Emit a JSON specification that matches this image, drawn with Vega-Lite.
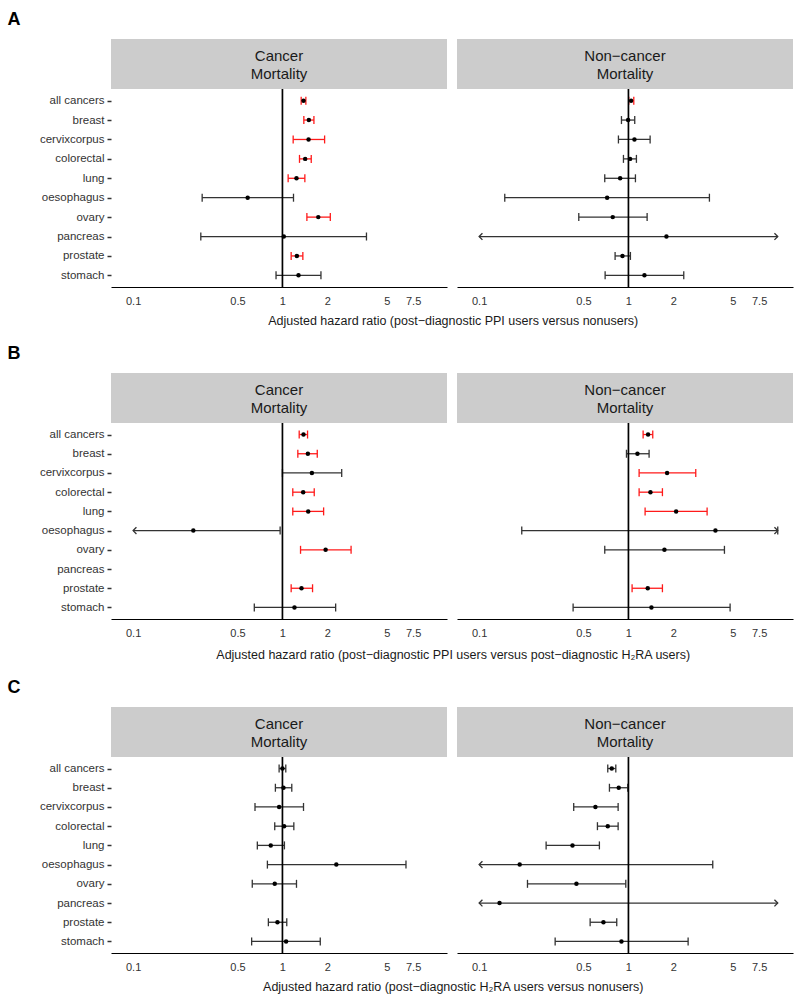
{
"$schema": "https://vega.github.io/schema/vega-lite/v6.json",
"padding": {"left": 7, "top": 11, "right": 5, "bottom": 0},
"config": {"font": "Liberation Sans", "view": {"stroke": null}},
"datasets": {"d": [
{"s":"A","m":"C","c":"all cancers","hr":1.384,"lo":1.335,"hi":1.435,"g":"y","lc":true,"hc":true,"la":false,"ha":false},
{"s":"A","m":"C","c":"breast","hr":1.503,"lo":1.391,"hi":1.625,"g":"y","lc":true,"hc":true,"la":false,"ha":false},
{"s":"A","m":"C","c":"cervixcorpus","hr":1.496,"lo":1.18,"hi":1.916,"g":"y","lc":true,"hc":true,"la":false,"ha":false},
{"s":"A","m":"C","c":"colorectal","hr":1.42,"lo":1.301,"hi":1.559,"g":"y","lc":true,"hc":true,"la":false,"ha":false},
{"s":"A","m":"C","c":"lung","hr":1.242,"lo":1.092,"hi":1.413,"g":"y","lc":true,"hc":true,"la":false,"ha":false},
{"s":"A","m":"C","c":"oesophagus","hr":0.585,"lo":0.29,"hi":1.186,"g":"n","lc":true,"hc":true,"la":false,"ha":false},
{"s":"A","m":"C","c":"ovary","hr":1.738,"lo":1.458,"hi":2.092,"g":"y","lc":true,"hc":true,"la":false,"ha":false},
{"s":"A","m":"C","c":"pancreas","hr":1.021,"lo":0.284,"hi":3.654,"g":"n","lc":true,"hc":true,"la":false,"ha":false},
{"s":"A","m":"C","c":"prostate","hr":1.249,"lo":1.144,"hi":1.37,"g":"y","lc":true,"hc":true,"la":false,"ha":false},
{"s":"A","m":"C","c":"stomach","hr":1.281,"lo":0.906,"hi":1.811,"g":"n","lc":true,"hc":true,"la":false,"ha":false},
{"s":"A","m":"N","c":"all cancers","hr":1.042,"lo":1.005,"hi":1.086,"g":"y","lc":true,"hc":true,"la":false,"ha":false},
{"s":"A","m":"N","c":"breast","hr":0.995,"lo":0.898,"hi":1.102,"g":"n","lc":true,"hc":true,"la":false,"ha":false},
{"s":"A","m":"N","c":"cervixcorpus","hr":1.097,"lo":0.857,"hi":1.397,"g":"n","lc":true,"hc":true,"la":false,"ha":false},
{"s":"A","m":"N","c":"colorectal","hr":1.026,"lo":0.926,"hi":1.131,"g":"n","lc":true,"hc":true,"la":false,"ha":false},
{"s":"A","m":"N","c":"lung","hr":0.88,"lo":0.694,"hi":1.114,"g":"n","lc":true,"hc":true,"la":false,"ha":false},
{"s":"A","m":"N","c":"oesophagus","hr":0.72,"lo":0.1485,"hi":3.486,"g":"n","lc":true,"hc":true,"la":false,"ha":false},
{"s":"A","m":"N","c":"ovary","hr":0.785,"lo":0.465,"hi":1.334,"g":"n","lc":true,"hc":true,"la":false,"ha":false},
{"s":"A","m":"N","c":"pancreas","hr":1.797,"lo":0.1,"hi":10,"g":"n","lc":false,"hc":false,"la":true,"ha":true},
{"s":"A","m":"N","c":"prostate","hr":0.912,"lo":0.814,"hi":1.031,"g":"n","lc":true,"hc":true,"la":false,"ha":false},
{"s":"A","m":"N","c":"stomach","hr":1.28,"lo":0.698,"hi":2.347,"g":"n","lc":true,"hc":true,"la":false,"ha":false},
{"s":"B","m":"C","c":"all cancers","hr":1.384,"lo":1.295,"hi":1.473,"g":"y","lc":true,"hc":true,"la":false,"ha":false},
{"s":"B","m":"C","c":"breast","hr":1.48,"lo":1.268,"hi":1.711,"g":"y","lc":true,"hc":true,"la":false,"ha":false},
{"s":"B","m":"C","c":"cervixcorpus","hr":1.575,"lo":1.0,"hi":2.494,"g":"n","lc":true,"hc":true,"la":false,"ha":false},
{"s":"B","m":"C","c":"colorectal","hr":1.377,"lo":1.173,"hi":1.633,"g":"y","lc":true,"hc":true,"la":false,"ha":false},
{"s":"B","m":"C","c":"lung","hr":1.488,"lo":1.173,"hi":1.887,"g":"y","lc":true,"hc":true,"la":false,"ha":false},
{"s":"B","m":"C","c":"oesophagus","hr":0.253,"lo":0.1,"hi":0.965,"g":"n","lc":false,"hc":true,"la":true,"ha":false},
{"s":"B","m":"C","c":"ovary","hr":1.946,"lo":1.322,"hi":2.882,"g":"y","lc":true,"hc":true,"la":false,"ha":false},
{"s":"B","m":"C","c":"prostate","hr":1.342,"lo":1.144,"hi":1.591,"g":"y","lc":true,"hc":true,"la":false,"ha":false},
{"s":"B","m":"C","c":"stomach","hr":1.204,"lo":0.648,"hi":2.272,"g":"n","lc":true,"hc":true,"la":false,"ha":false},
{"s":"B","m":"N","c":"all cancers","hr":1.354,"lo":1.254,"hi":1.455,"g":"y","lc":true,"hc":true,"la":false,"ha":false},
{"s":"B","m":"N","c":"breast","hr":1.149,"lo":0.97,"hi":1.375,"g":"n","lc":true,"hc":true,"la":false,"ha":false},
{"s":"B","m":"N","c":"cervixcorpus","hr":1.815,"lo":1.179,"hi":2.824,"g":"y","lc":true,"hc":true,"la":false,"ha":false},
{"s":"B","m":"N","c":"colorectal","hr":1.404,"lo":1.179,"hi":1.689,"g":"y","lc":true,"hc":true,"la":false,"ha":false},
{"s":"B","m":"N","c":"lung","hr":2.086,"lo":1.293,"hi":3.364,"g":"y","lc":true,"hc":true,"la":false,"ha":false},
{"s":"B","m":"N","c":"oesophagus","hr":3.825,"lo":0.193,"hi":10,"g":"n","lc":true,"hc":true,"la":false,"ha":true},
{"s":"B","m":"N","c":"ovary","hr":1.742,"lo":0.694,"hi":4.395,"g":"n","lc":true,"hc":true,"la":false,"ha":false},
{"s":"B","m":"N","c":"prostate","hr":1.347,"lo":1.058,"hi":1.689,"g":"y","lc":true,"hc":true,"la":false,"ha":false},
{"s":"B","m":"N","c":"stomach","hr":1.426,"lo":0.426,"hi":4.796,"g":"n","lc":true,"hc":true,"la":false,"ha":false},
{"s":"C","m":"C","c":"all cancers","hr":1.0,"lo":0.95,"hi":1.053,"g":"n","lc":true,"hc":true,"la":false,"ha":false},
{"s":"C","m":"C","c":"breast","hr":1.016,"lo":0.897,"hi":1.155,"g":"n","lc":true,"hc":true,"la":false,"ha":false},
{"s":"C","m":"C","c":"cervixcorpus","hr":0.95,"lo":0.655,"hi":1.384,"g":"n","lc":true,"hc":true,"la":false,"ha":false},
{"s":"C","m":"C","c":"colorectal","hr":1.026,"lo":0.888,"hi":1.192,"g":"n","lc":true,"hc":true,"la":false,"ha":false},
{"s":"C","m":"C","c":"lung","hr":0.835,"lo":0.679,"hi":1.031,"g":"n","lc":true,"hc":true,"la":false,"ha":false},
{"s":"C","m":"C","c":"oesophagus","hr":2.296,"lo":0.793,"hi":6.72,"g":"n","lc":true,"hc":true,"la":false,"ha":false},
{"s":"C","m":"C","c":"ovary","hr":0.888,"lo":0.628,"hi":1.242,"g":"n","lc":true,"hc":true,"la":false,"ha":false},
{"s":"C","m":"C","c":"prostate","hr":0.926,"lo":0.805,"hi":1.069,"g":"n","lc":true,"hc":true,"la":false,"ha":false},
{"s":"C","m":"C","c":"stomach","hr":1.058,"lo":0.622,"hi":1.792,"g":"n","lc":true,"hc":true,"la":false,"ha":false},
{"s":"C","m":"N","c":"all cancers","hr":0.773,"lo":0.727,"hi":0.823,"g":"n","lc":true,"hc":true,"la":false,"ha":false},
{"s":"C","m":"N","c":"breast","hr":0.861,"lo":0.746,"hi":0.99,"g":"n","lc":true,"hc":true,"la":false,"ha":false},
{"s":"C","m":"N","c":"cervixcorpus","hr":0.601,"lo":0.43,"hi":0.853,"g":"n","lc":true,"hc":true,"la":false,"ha":false},
{"s":"C","m":"N","c":"colorectal","hr":0.727,"lo":0.62,"hi":0.853,"g":"n","lc":true,"hc":true,"la":false,"ha":false},
{"s":"C","m":"N","c":"lung","hr":0.422,"lo":0.281,"hi":0.639,"g":"n","lc":true,"hc":true,"la":false,"ha":false},
{"s":"C","m":"N","c":"oesophagus","hr":0.187,"lo":0.1,"hi":3.67,"g":"n","lc":false,"hc":true,"la":true,"ha":false},
{"s":"C","m":"N","c":"ovary","hr":0.4485,"lo":0.2108,"hi":0.96,"g":"n","lc":true,"hc":true,"la":false,"ha":false},
{"s":"C","m":"N","c":"pancreas","hr":0.137,"lo":0.1,"hi":10,"g":"n","lc":false,"hc":false,"la":true,"ha":true},
{"s":"C","m":"N","c":"prostate","hr":0.68,"lo":0.554,"hi":0.835,"g":"n","lc":true,"hc":true,"la":false,"ha":false},
{"s":"C","m":"N","c":"stomach","hr":0.898,"lo":0.323,"hi":2.51,"g":"n","lc":true,"hc":true,"la":false,"ha":false}
]},
"spacing": 17,
"vconcat": [
{
"title": {"text": "A", "anchor": "start", "fontSize": 18, "fontWeight": "bold", "color": "#000", "dx": -32, "offset": 10},
"vconcat": [{
"title": {"text": "Adjusted hazard ratio (post−diagnostic PPI users versus nonusers)", "orient": "bottom", "anchor": "middle", "fontSize": 12.5, "fontWeight": "normal", "color": "#1a1a1a", "dx": 37, "offset": 9},
"spacing": 10,
"hconcat": [
{"spacing": 0, "bounds": "flush", "vconcat": [
 {"width": 336, "height": 50, "view": {"fill": "#cccccc", "stroke": null}, "data": {"values": [{"t": "Cancer\nMortality"}]}, "mark": {"type": "text", "fontSize": 15, "lineBreak": "\n", "lineHeight": 18, "color": "#1a1a1a", "baseline": "middle", "align": "center", "dy": -8}, "encoding": {"text": {"field": "t"}}},
 {"width": 336, "height": 198, "data": {"name": "d"}, "transform": [{"filter": "datum.s=='A' && datum.m=='C'"}],
  "layer": [
   {"mark": {"type": "rule", "strokeWidth": 1.3}, "encoding": {"y": {"field": "c", "type": "nominal", "scale": {"type": "point", "padding": 0.6, "domain": ["all cancers","breast","cervixcorpus","colorectal","lung","oesophagus","ovary","pancreas","prostate","stomach"]}, "axis": {"title": null, "domain": false, "ticks": true, "tickSize": 4, "tickWidth": 1.5, "tickColor": "#333", "labelFontSize": 11.5, "labelColor": "#333", "labelPadding": 3, "grid": false}}, "x": {"field": "lo", "type": "quantitative", "scale": {"type": "log", "domain": [0.0711, 12.65], "nice": false}, "axis": {"title": null, "values": [0.1,0.5,1,2,5,7.5], "format": "~g", "ticks": false, "grid": false, "domainColor": "#000", "domainWidth": 1.2, "labelFontSize": 11, "labelColor": "#333", "labelPadding": 8, "labelFlush": false}}, "x2": {"field": "hi"}, "color": {"field": "g", "type": "nominal", "scale": {"domain": ["n","y"], "range": ["#333333","#ff1a1a"]}, "legend": null}}},
   {"transform": [{"filter": "datum.lc"}], "mark": {"type": "tick", "orient": "vertical", "thickness": 1.3, "size": 8, "opacity": 1}, "encoding": {"y": {"field": "c", "type": "nominal"}, "x": {"field": "lo", "type": "quantitative"}, "color": {"field": "g", "type": "nominal"}}},
   {"transform": [{"filter": "datum.hc"}], "mark": {"type": "tick", "orient": "vertical", "thickness": 1.3, "size": 8, "opacity": 1}, "encoding": {"y": {"field": "c", "type": "nominal"}, "x": {"field": "hi", "type": "quantitative"}, "color": {"field": "g", "type": "nominal"}}},
   {"transform": [{"filter": "datum.la"}], "mark": {"type": "point", "shape": "M1,-1L0,0L1,1", "filled": false, "size": 44, "strokeWidth": 1.3, "opacity": 1}, "encoding": {"y": {"field": "c", "type": "nominal"}, "x": {"field": "lo", "type": "quantitative"}, "color": {"field": "g", "type": "nominal"}}},
   {"transform": [{"filter": "datum.ha"}], "mark": {"type": "point", "shape": "M-1,-1L0,0L-1,1", "filled": false, "size": 44, "strokeWidth": 1.3, "opacity": 1}, "encoding": {"y": {"field": "c", "type": "nominal"}, "x": {"field": "hi", "type": "quantitative"}, "color": {"field": "g", "type": "nominal"}}},
   {"data": {"values": [{"v": 1}]}, "mark": {"type": "rule", "color": "#000", "strokeWidth": 1.7}, "encoding": {"x": {"field": "v", "type": "quantitative"}}},
   {"mark": {"type": "point", "filled": true, "color": "#000", "size": 20, "opacity": 1}, "encoding": {"y": {"field": "c", "type": "nominal"}, "x": {"field": "hr", "type": "quantitative"}}}
  ]}
]},
{"spacing": 0, "bounds": "flush", "vconcat": [
 {"width": 336, "height": 50, "view": {"fill": "#cccccc", "stroke": null}, "data": {"values": [{"t": "Non−cancer\nMortality"}]}, "mark": {"type": "text", "fontSize": 15, "lineBreak": "\n", "lineHeight": 18, "color": "#1a1a1a", "baseline": "middle", "align": "center", "dy": -8}, "encoding": {"text": {"field": "t"}}},
 {"width": 336, "height": 198, "data": {"name": "d"}, "transform": [{"filter": "datum.s=='A' && datum.m=='N'"}],
  "layer": [
   {"mark": {"type": "rule", "strokeWidth": 1.3}, "encoding": {"y": {"field": "c", "type": "nominal", "scale": {"type": "point", "padding": 0.6, "domain": ["all cancers","breast","cervixcorpus","colorectal","lung","oesophagus","ovary","pancreas","prostate","stomach"]}, "axis": null}, "x": {"field": "lo", "type": "quantitative", "scale": {"type": "log", "domain": [0.0711, 12.65], "nice": false}, "axis": {"title": null, "values": [0.1,0.5,1,2,5,7.5], "format": "~g", "ticks": false, "grid": false, "domainColor": "#000", "domainWidth": 1.2, "labelFontSize": 11, "labelColor": "#333", "labelPadding": 8, "labelFlush": false}}, "x2": {"field": "hi"}, "color": {"field": "g", "type": "nominal", "scale": {"domain": ["n","y"], "range": ["#333333","#ff1a1a"]}, "legend": null}}},
   {"transform": [{"filter": "datum.lc"}], "mark": {"type": "tick", "orient": "vertical", "thickness": 1.3, "size": 8, "opacity": 1}, "encoding": {"y": {"field": "c", "type": "nominal"}, "x": {"field": "lo", "type": "quantitative"}, "color": {"field": "g", "type": "nominal"}}},
   {"transform": [{"filter": "datum.hc"}], "mark": {"type": "tick", "orient": "vertical", "thickness": 1.3, "size": 8, "opacity": 1}, "encoding": {"y": {"field": "c", "type": "nominal"}, "x": {"field": "hi", "type": "quantitative"}, "color": {"field": "g", "type": "nominal"}}},
   {"transform": [{"filter": "datum.la"}], "mark": {"type": "point", "shape": "M1,-1L0,0L1,1", "filled": false, "size": 44, "strokeWidth": 1.3, "opacity": 1}, "encoding": {"y": {"field": "c", "type": "nominal"}, "x": {"field": "lo", "type": "quantitative"}, "color": {"field": "g", "type": "nominal"}}},
   {"transform": [{"filter": "datum.ha"}], "mark": {"type": "point", "shape": "M-1,-1L0,0L-1,1", "filled": false, "size": 44, "strokeWidth": 1.3, "opacity": 1}, "encoding": {"y": {"field": "c", "type": "nominal"}, "x": {"field": "hi", "type": "quantitative"}, "color": {"field": "g", "type": "nominal"}}},
   {"data": {"values": [{"v": 1}]}, "mark": {"type": "rule", "color": "#000", "strokeWidth": 1.7}, "encoding": {"x": {"field": "v", "type": "quantitative"}}},
   {"mark": {"type": "point", "filled": true, "color": "#000", "size": 20, "opacity": 1}, "encoding": {"y": {"field": "c", "type": "nominal"}, "x": {"field": "hr", "type": "quantitative"}}}
  ]}
]}
]
}]
},
{
"title": {"text": "B", "anchor": "start", "fontSize": 18, "fontWeight": "bold", "color": "#000", "dx": -32, "offset": 10},
"vconcat": [{
"title": {"text": "Adjusted hazard ratio (post−diagnostic PPI users versus post−diagnostic H₂RA users)", "orient": "bottom", "anchor": "middle", "fontSize": 12.5, "fontWeight": "normal", "color": "#1a1a1a", "dx": 37, "offset": 11},
"spacing": 10,
"hconcat": [
{"spacing": 0, "bounds": "flush", "vconcat": [
 {"width": 336, "height": 50, "view": {"fill": "#cccccc", "stroke": null}, "data": {"values": [{"t": "Cancer\nMortality"}]}, "mark": {"type": "text", "fontSize": 15, "lineBreak": "\n", "lineHeight": 18, "color": "#1a1a1a", "baseline": "middle", "align": "center", "dy": -8}, "encoding": {"text": {"field": "t"}}},
 {"width": 336, "height": 196, "data": {"name": "d"}, "transform": [{"filter": "datum.s=='B' && datum.m=='C'"}],
  "layer": [
   {"mark": {"type": "rule", "strokeWidth": 1.3}, "encoding": {"y": {"field": "c", "type": "nominal", "scale": {"type": "point", "padding": 0.6, "domain": ["all cancers","breast","cervixcorpus","colorectal","lung","oesophagus","ovary","pancreas","prostate","stomach"]}, "axis": {"title": null, "domain": false, "ticks": true, "tickSize": 4, "tickWidth": 1.5, "tickColor": "#333", "labelFontSize": 11.5, "labelColor": "#333", "labelPadding": 3, "grid": false}}, "x": {"field": "lo", "type": "quantitative", "scale": {"type": "log", "domain": [0.0711, 12.65], "nice": false}, "axis": {"title": null, "values": [0.1,0.5,1,2,5,7.5], "format": "~g", "ticks": false, "grid": false, "domainColor": "#000", "domainWidth": 1.2, "labelFontSize": 11, "labelColor": "#333", "labelPadding": 8, "labelFlush": false}}, "x2": {"field": "hi"}, "color": {"field": "g", "type": "nominal", "scale": {"domain": ["n","y"], "range": ["#333333","#ff1a1a"]}, "legend": null}}},
   {"transform": [{"filter": "datum.lc"}], "mark": {"type": "tick", "orient": "vertical", "thickness": 1.3, "size": 8, "opacity": 1}, "encoding": {"y": {"field": "c", "type": "nominal"}, "x": {"field": "lo", "type": "quantitative"}, "color": {"field": "g", "type": "nominal"}}},
   {"transform": [{"filter": "datum.hc"}], "mark": {"type": "tick", "orient": "vertical", "thickness": 1.3, "size": 8, "opacity": 1}, "encoding": {"y": {"field": "c", "type": "nominal"}, "x": {"field": "hi", "type": "quantitative"}, "color": {"field": "g", "type": "nominal"}}},
   {"transform": [{"filter": "datum.la"}], "mark": {"type": "point", "shape": "M1,-1L0,0L1,1", "filled": false, "size": 44, "strokeWidth": 1.3, "opacity": 1}, "encoding": {"y": {"field": "c", "type": "nominal"}, "x": {"field": "lo", "type": "quantitative"}, "color": {"field": "g", "type": "nominal"}}},
   {"transform": [{"filter": "datum.ha"}], "mark": {"type": "point", "shape": "M-1,-1L0,0L-1,1", "filled": false, "size": 44, "strokeWidth": 1.3, "opacity": 1}, "encoding": {"y": {"field": "c", "type": "nominal"}, "x": {"field": "hi", "type": "quantitative"}, "color": {"field": "g", "type": "nominal"}}},
   {"data": {"values": [{"v": 1}]}, "mark": {"type": "rule", "color": "#000", "strokeWidth": 1.7}, "encoding": {"x": {"field": "v", "type": "quantitative"}}},
   {"mark": {"type": "point", "filled": true, "color": "#000", "size": 20, "opacity": 1}, "encoding": {"y": {"field": "c", "type": "nominal"}, "x": {"field": "hr", "type": "quantitative"}}}
  ]}
]},
{"spacing": 0, "bounds": "flush", "vconcat": [
 {"width": 336, "height": 50, "view": {"fill": "#cccccc", "stroke": null}, "data": {"values": [{"t": "Non−cancer\nMortality"}]}, "mark": {"type": "text", "fontSize": 15, "lineBreak": "\n", "lineHeight": 18, "color": "#1a1a1a", "baseline": "middle", "align": "center", "dy": -8}, "encoding": {"text": {"field": "t"}}},
 {"width": 336, "height": 196, "data": {"name": "d"}, "transform": [{"filter": "datum.s=='B' && datum.m=='N'"}],
  "layer": [
   {"mark": {"type": "rule", "strokeWidth": 1.3}, "encoding": {"y": {"field": "c", "type": "nominal", "scale": {"type": "point", "padding": 0.6, "domain": ["all cancers","breast","cervixcorpus","colorectal","lung","oesophagus","ovary","pancreas","prostate","stomach"]}, "axis": null}, "x": {"field": "lo", "type": "quantitative", "scale": {"type": "log", "domain": [0.0711, 12.65], "nice": false}, "axis": {"title": null, "values": [0.1,0.5,1,2,5,7.5], "format": "~g", "ticks": false, "grid": false, "domainColor": "#000", "domainWidth": 1.2, "labelFontSize": 11, "labelColor": "#333", "labelPadding": 8, "labelFlush": false}}, "x2": {"field": "hi"}, "color": {"field": "g", "type": "nominal", "scale": {"domain": ["n","y"], "range": ["#333333","#ff1a1a"]}, "legend": null}}},
   {"transform": [{"filter": "datum.lc"}], "mark": {"type": "tick", "orient": "vertical", "thickness": 1.3, "size": 8, "opacity": 1}, "encoding": {"y": {"field": "c", "type": "nominal"}, "x": {"field": "lo", "type": "quantitative"}, "color": {"field": "g", "type": "nominal"}}},
   {"transform": [{"filter": "datum.hc"}], "mark": {"type": "tick", "orient": "vertical", "thickness": 1.3, "size": 8, "opacity": 1}, "encoding": {"y": {"field": "c", "type": "nominal"}, "x": {"field": "hi", "type": "quantitative"}, "color": {"field": "g", "type": "nominal"}}},
   {"transform": [{"filter": "datum.la"}], "mark": {"type": "point", "shape": "M1,-1L0,0L1,1", "filled": false, "size": 44, "strokeWidth": 1.3, "opacity": 1}, "encoding": {"y": {"field": "c", "type": "nominal"}, "x": {"field": "lo", "type": "quantitative"}, "color": {"field": "g", "type": "nominal"}}},
   {"transform": [{"filter": "datum.ha"}], "mark": {"type": "point", "shape": "M-1,-1L0,0L-1,1", "filled": false, "size": 44, "strokeWidth": 1.3, "opacity": 1}, "encoding": {"y": {"field": "c", "type": "nominal"}, "x": {"field": "hi", "type": "quantitative"}, "color": {"field": "g", "type": "nominal"}}},
   {"data": {"values": [{"v": 1}]}, "mark": {"type": "rule", "color": "#000", "strokeWidth": 1.7}, "encoding": {"x": {"field": "v", "type": "quantitative"}}},
   {"mark": {"type": "point", "filled": true, "color": "#000", "size": 20, "opacity": 1}, "encoding": {"y": {"field": "c", "type": "nominal"}, "x": {"field": "hr", "type": "quantitative"}}}
  ]}
]}
]
}]
},
{
"title": {"text": "C", "anchor": "start", "fontSize": 18, "fontWeight": "bold", "color": "#000", "dx": -32, "offset": 10},
"vconcat": [{
"title": {"text": "Adjusted hazard ratio (post−diagnostic H₂RA users versus nonusers)", "orient": "bottom", "anchor": "middle", "fontSize": 12.5, "fontWeight": "normal", "color": "#1a1a1a", "dx": 37, "offset": 9},
"spacing": 10,
"hconcat": [
{"spacing": 0, "bounds": "flush", "vconcat": [
 {"width": 336, "height": 50, "view": {"fill": "#cccccc", "stroke": null}, "data": {"values": [{"t": "Cancer\nMortality"}]}, "mark": {"type": "text", "fontSize": 15, "lineBreak": "\n", "lineHeight": 18, "color": "#1a1a1a", "baseline": "middle", "align": "center", "dy": -8}, "encoding": {"text": {"field": "t"}}},
 {"width": 336, "height": 196, "data": {"name": "d"}, "transform": [{"filter": "datum.s=='C' && datum.m=='C'"}],
  "layer": [
   {"mark": {"type": "rule", "strokeWidth": 1.3}, "encoding": {"y": {"field": "c", "type": "nominal", "scale": {"type": "point", "padding": 0.6, "domain": ["all cancers","breast","cervixcorpus","colorectal","lung","oesophagus","ovary","pancreas","prostate","stomach"]}, "axis": {"title": null, "domain": false, "ticks": true, "tickSize": 4, "tickWidth": 1.5, "tickColor": "#333", "labelFontSize": 11.5, "labelColor": "#333", "labelPadding": 3, "grid": false}}, "x": {"field": "lo", "type": "quantitative", "scale": {"type": "log", "domain": [0.0711, 12.65], "nice": false}, "axis": {"title": null, "values": [0.1,0.5,1,2,5,7.5], "format": "~g", "ticks": false, "grid": false, "domainColor": "#000", "domainWidth": 1.2, "labelFontSize": 11, "labelColor": "#333", "labelPadding": 8, "labelFlush": false}}, "x2": {"field": "hi"}, "color": {"field": "g", "type": "nominal", "scale": {"domain": ["n","y"], "range": ["#333333","#ff1a1a"]}, "legend": null}}},
   {"transform": [{"filter": "datum.lc"}], "mark": {"type": "tick", "orient": "vertical", "thickness": 1.3, "size": 8, "opacity": 1}, "encoding": {"y": {"field": "c", "type": "nominal"}, "x": {"field": "lo", "type": "quantitative"}, "color": {"field": "g", "type": "nominal"}}},
   {"transform": [{"filter": "datum.hc"}], "mark": {"type": "tick", "orient": "vertical", "thickness": 1.3, "size": 8, "opacity": 1}, "encoding": {"y": {"field": "c", "type": "nominal"}, "x": {"field": "hi", "type": "quantitative"}, "color": {"field": "g", "type": "nominal"}}},
   {"transform": [{"filter": "datum.la"}], "mark": {"type": "point", "shape": "M1,-1L0,0L1,1", "filled": false, "size": 44, "strokeWidth": 1.3, "opacity": 1}, "encoding": {"y": {"field": "c", "type": "nominal"}, "x": {"field": "lo", "type": "quantitative"}, "color": {"field": "g", "type": "nominal"}}},
   {"transform": [{"filter": "datum.ha"}], "mark": {"type": "point", "shape": "M-1,-1L0,0L-1,1", "filled": false, "size": 44, "strokeWidth": 1.3, "opacity": 1}, "encoding": {"y": {"field": "c", "type": "nominal"}, "x": {"field": "hi", "type": "quantitative"}, "color": {"field": "g", "type": "nominal"}}},
   {"data": {"values": [{"v": 1}]}, "mark": {"type": "rule", "color": "#000", "strokeWidth": 1.7}, "encoding": {"x": {"field": "v", "type": "quantitative"}}},
   {"mark": {"type": "point", "filled": true, "color": "#000", "size": 20, "opacity": 1}, "encoding": {"y": {"field": "c", "type": "nominal"}, "x": {"field": "hr", "type": "quantitative"}}}
  ]}
]},
{"spacing": 0, "bounds": "flush", "vconcat": [
 {"width": 336, "height": 50, "view": {"fill": "#cccccc", "stroke": null}, "data": {"values": [{"t": "Non−cancer\nMortality"}]}, "mark": {"type": "text", "fontSize": 15, "lineBreak": "\n", "lineHeight": 18, "color": "#1a1a1a", "baseline": "middle", "align": "center", "dy": -8}, "encoding": {"text": {"field": "t"}}},
 {"width": 336, "height": 196, "data": {"name": "d"}, "transform": [{"filter": "datum.s=='C' && datum.m=='N'"}],
  "layer": [
   {"mark": {"type": "rule", "strokeWidth": 1.3}, "encoding": {"y": {"field": "c", "type": "nominal", "scale": {"type": "point", "padding": 0.6, "domain": ["all cancers","breast","cervixcorpus","colorectal","lung","oesophagus","ovary","pancreas","prostate","stomach"]}, "axis": null}, "x": {"field": "lo", "type": "quantitative", "scale": {"type": "log", "domain": [0.0711, 12.65], "nice": false}, "axis": {"title": null, "values": [0.1,0.5,1,2,5,7.5], "format": "~g", "ticks": false, "grid": false, "domainColor": "#000", "domainWidth": 1.2, "labelFontSize": 11, "labelColor": "#333", "labelPadding": 8, "labelFlush": false}}, "x2": {"field": "hi"}, "color": {"field": "g", "type": "nominal", "scale": {"domain": ["n","y"], "range": ["#333333","#ff1a1a"]}, "legend": null}}},
   {"transform": [{"filter": "datum.lc"}], "mark": {"type": "tick", "orient": "vertical", "thickness": 1.3, "size": 8, "opacity": 1}, "encoding": {"y": {"field": "c", "type": "nominal"}, "x": {"field": "lo", "type": "quantitative"}, "color": {"field": "g", "type": "nominal"}}},
   {"transform": [{"filter": "datum.hc"}], "mark": {"type": "tick", "orient": "vertical", "thickness": 1.3, "size": 8, "opacity": 1}, "encoding": {"y": {"field": "c", "type": "nominal"}, "x": {"field": "hi", "type": "quantitative"}, "color": {"field": "g", "type": "nominal"}}},
   {"transform": [{"filter": "datum.la"}], "mark": {"type": "point", "shape": "M1,-1L0,0L1,1", "filled": false, "size": 44, "strokeWidth": 1.3, "opacity": 1}, "encoding": {"y": {"field": "c", "type": "nominal"}, "x": {"field": "lo", "type": "quantitative"}, "color": {"field": "g", "type": "nominal"}}},
   {"transform": [{"filter": "datum.ha"}], "mark": {"type": "point", "shape": "M-1,-1L0,0L-1,1", "filled": false, "size": 44, "strokeWidth": 1.3, "opacity": 1}, "encoding": {"y": {"field": "c", "type": "nominal"}, "x": {"field": "hi", "type": "quantitative"}, "color": {"field": "g", "type": "nominal"}}},
   {"data": {"values": [{"v": 1}]}, "mark": {"type": "rule", "color": "#000", "strokeWidth": 1.7}, "encoding": {"x": {"field": "v", "type": "quantitative"}}},
   {"mark": {"type": "point", "filled": true, "color": "#000", "size": 20, "opacity": 1}, "encoding": {"y": {"field": "c", "type": "nominal"}, "x": {"field": "hr", "type": "quantitative"}}}
  ]}
]}
]
}]
}
]
}
